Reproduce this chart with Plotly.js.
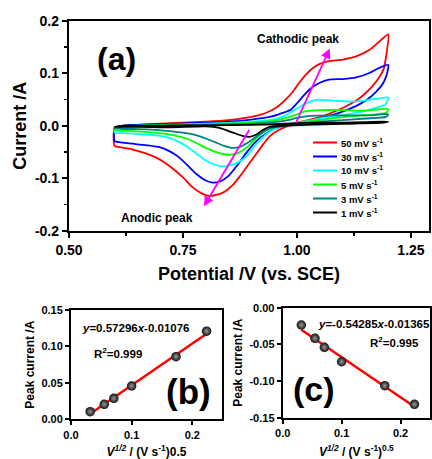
<!DOCTYPE html>
<html><head><meta charset="utf-8">
<script src="https://cdn.plot.ly/plotly-3.0.1.min.js"></script>
<style>html,body{margin:0;padding:0;background:#fff}#plot{width:432px;height:459px}</style>
</head><body><div id="plot"></div>
<script>
// ---- (a) cyclic voltammograms: potential (V) and current (A), closed loops ----
const cv50V = [0.600,0.615,0.65,0.70,0.75,0.80,0.85,0.90,0.93,0.955,0.975,0.99,1.005,1.02,1.035,1.05,1.07,1.10,1.13,1.16,1.18,1.20,
  1.195,1.190,1.180,1.165,1.15,1.13,1.10,1.07,1.04,1.02,1.00,0.98,0.96,0.94,0.92,0.90,0.88,0.86,0.84,0.82,0.805,0.79,0.77,0.75,0.73,0.71,0.69,0.67,0.64,0.615,0.600,0.600];
const cv50I = [-0.004,0.000,0.002,0.004,0.006,0.008,0.011,0.017,0.024,0.035,0.050,0.064,0.082,0.098,0.110,0.118,0.123,0.126,0.132,0.145,0.160,0.174,
  0.130,0.108,0.092,0.075,0.062,0.048,0.034,0.023,0.014,0.010,0.006,0.000,-0.008,-0.020,-0.042,-0.066,-0.090,-0.112,-0.126,-0.132,-0.133,-0.128,-0.116,-0.098,-0.083,-0.070,-0.060,-0.053,-0.045,-0.041,-0.038,-0.004];

const cv30V = [0.600,0.615,0.70,0.80,0.85,0.90,0.94,0.96,0.985,1.00,1.015,1.03,1.05,1.07,1.10,1.13,1.16,1.18,1.20,
  1.196,1.185,1.16,1.13,1.094,1.058,1.02,0.99,0.97,0.95,0.93,0.91,0.89,0.87,0.85,0.83,0.815,0.80,0.78,0.76,0.74,0.72,0.70,0.67,0.64,0.61,0.600,0.600];
const cv30I = [-0.005,0.000,0.003,0.006,0.008,0.012,0.017,0.022,0.030,0.043,0.058,0.071,0.082,0.088,0.089,0.092,0.101,0.110,0.116,
  0.095,0.076,0.054,0.038,0.025,0.016,0.006,0.003,0.000,-0.006,-0.016,-0.030,-0.050,-0.074,-0.095,-0.106,-0.108,-0.104,-0.092,-0.075,-0.059,-0.048,-0.041,-0.037,-0.034,-0.031,-0.029,-0.005];

const cv10V = [0.600,0.62,0.70,0.80,0.90,0.95,0.975,0.99,1.00,1.02,1.04,1.08,1.12,1.155,1.18,1.20,
  1.195,1.18,1.16,1.13,1.094,1.058,1.02,0.99,0.97,0.95,0.93,0.91,0.89,0.87,0.85,0.835,0.82,0.80,0.78,0.76,0.74,0.72,0.70,0.66,0.62,0.600,0.600];
const cv10I = [-0.005,-0.001,0.002,0.004,0.008,0.013,0.020,0.028,0.033,0.043,0.049,0.048,0.046,0.049,0.052,0.054,
  0.042,0.036,0.031,0.025,0.019,0.015,0.009,0.004,0.000,-0.006,-0.018,-0.035,-0.057,-0.070,-0.076,-0.077,-0.074,-0.066,-0.053,-0.040,-0.030,-0.023,-0.019,-0.016,-0.014,-0.013,-0.005];

const cv5V = [0.600,0.62,0.70,0.80,0.90,0.95,0.98,1.00,1.02,1.05,1.10,1.15,1.20,
  1.196,1.17,1.13,1.094,1.058,1.02,0.99,0.97,0.95,0.93,0.91,0.89,0.87,0.855,0.84,0.82,0.80,0.78,0.76,0.73,0.70,0.66,0.62,0.60,0.60];
const cv5I = [-0.004,-0.001,0.001,0.003,0.006,0.010,0.016,0.022,0.028,0.030,0.030,0.029,0.032,
  0.025,0.022,0.019,0.016,0.012,0.008,0.003,0.000,-0.003,-0.010,-0.024,-0.041,-0.052,-0.055,-0.054,-0.049,-0.042,-0.033,-0.025,-0.018,-0.014,-0.011,-0.009,-0.008,-0.004];

const cv3V = [0.600,0.62,0.70,0.80,0.90,0.95,0.98,1.00,1.03,1.07,1.12,1.16,1.20,
  1.195,1.15,1.10,1.05,1.00,0.97,0.95,0.93,0.91,0.89,0.875,0.86,0.84,0.82,0.80,0.78,0.75,0.72,0.68,0.64,0.60,0.60];
const cv3I = [-0.003,-0.001,0.000,0.002,0.004,0.007,0.011,0.015,0.019,0.020,0.020,0.020,0.022,
  0.017,0.014,0.011,0.008,0.004,0.000,-0.003,-0.009,-0.021,-0.033,-0.040,-0.042,-0.038,-0.031,-0.024,-0.018,-0.013,-0.010,-0.007,-0.006,-0.005,-0.003];

const cv1V = [0.600,0.62,0.80,0.90,0.95,1.00,1.05,1.10,1.15,1.20,
  1.19,1.10,1.02,0.97,0.94,0.925,0.91,0.895,0.88,0.86,0.83,0.80,0.72,0.66,0.60];
const cv1I = [-0.002,0.000,0.001,0.002,0.003,0.005,0.006,0.006,0.007,0.008,
  0.006,0.004,0.002,0.000,-0.002,-0.008,-0.017,-0.021,-0.019,-0.013,-0.004,-0.001,-0.003,-0.002,-0.002];

const scanLabels = ['50 mV s<sup>-1</sup>','30 mV s<sup>-1</sup>','10 mV s<sup>-1</sup>','5 mV s<sup>-1</sup>','3 mV s<sup>-1</sup>','1 mV s<sup>-1</sup>'];
const scanColors = ['#ff0000','#0000ff','#00ffff','#00ff00','#008080','#000000'];

// ---- (b), (c) peak currents vs square root of scan rate ----
const sqrtRate = [0.0316,0.0548,0.0707,0.1000,0.1732,0.2236];
const cathodicPeak = [0.0104,0.0206,0.0288,0.0457,0.0860,0.1210];
const anodicPeak = [-0.0236,-0.0418,-0.0540,-0.0737,-0.1064,-0.1318];
const fitX = [0.0316,0.2236];
const fitCathodic = [0.0075,0.1175];
const fitAnodic = [-0.0300,-0.1350];

// ---- tick labels ----
const aXTicks = [0.5,0.75,1.0,1.25], aXText = ['0.50','0.75','1.00','1.25'];
const aYTicks = [-0.2,-0.1,0,0.1,0.2], aYText = ['-0.2','-0.1','0.0','0.1','0.2'];
const bXTicks = [0,0.1,0.2], bXText = ['0.0','0.1','0.2'];
const bYTicks = [0,0.05,0.10,0.15], bYText = ['0.00','0.05','0.10','0.15'];
const cXTicks = [0,0.1,0.2], cXText = ['0.0','0.1','0.2'];
const cYTicks = [0,-0.05,-0.10,-0.15], cYText = ['0.00','-0.05','-0.10','-0.15'];

const FONT = 'Liberation Sans, Arial, Helvetica, sans-serif';
const cvData = [[cv50V,cv50I],[cv30V,cv30I],[cv10V,cv10I],[cv5V,cv5I],[cv3V,cv3I],[cv1V,cv1I]];
const traces = [];
cvData.forEach((d,i)=>{
  traces.push({x:d[0], y:d[1], type:'scatter', mode:'lines', name:scanLabels[i],
    line:{color:scanColors[i], width:1.8, shape:'spline', smoothing:0.6}, xaxis:'x', yaxis:'y', showlegend:false});
});
const dotMarker = {size:9.5, color:'#111', gradient:{type:'radial', color:'#9a9a9a'}, line:{width:0}};
traces.push({x:fitX, y:fitCathodic, mode:'lines', line:{color:'#ff0000', width:2.5}, xaxis:'x2', yaxis:'y2', showlegend:false});
traces.push({x:sqrtRate, y:cathodicPeak, mode:'markers', marker:dotMarker, xaxis:'x2', yaxis:'y2', showlegend:false});
traces.push({x:fitX, y:fitAnodic, mode:'lines', line:{color:'#ff0000', width:2.5}, xaxis:'x3', yaxis:'y3', showlegend:false});
traces.push({x:sqrtRate, y:anodicPeak, mode:'markers', marker:dotMarker, xaxis:'x3', yaxis:'y3', showlegend:false});

function P(px,py){return [px/432, 1-py/459];}
const annotations = [];
const shapes = [];
function txt(px,py,text,size,xanchor){
  const p=P(px,py);
  annotations.push({xref:'paper',yref:'paper',x:p[0],y:p[1],text:text,showarrow:false,
    xanchor:xanchor||'center',yanchor:'middle',font:{family:FONT,size:size,color:'#000',weight:'bold'}});
}
txt(116.7,59,'(a)',32);
txt(298,39,'Cathodic peak',12);
txt(156.7,218.3,'Anodic peak',12);
txt(188.3,391,'(b)',35);
txt(313.8,389,'(c)',34);
txt(136,327.7,'<i>y</i>=0.57296<i>x</i>-0.01076',11.5);
txt(118,353.3,'R<sup>2</sup>=0.999',11.5);
txt(373.8,324.3,'<i>y</i>=-0.54285<i>x</i>-0.01365',11.5);
txt(394.8,341.7,'R<sup>2</sup>=0.995',11.5);
// magenta arrows
annotations.push({xref:'x',yref:'y',axref:'x',ayref:'y',x:0.796,y:-0.153,ax:0.897,ay:-0.005,
  showarrow:true,arrowhead:2,arrowsize:1.1,arrowwidth:1.8,arrowcolor:'#ff00ff',text:''});
annotations.push({xref:'x',yref:'y',axref:'x',ayref:'y',x:1.072,y:0.147,ax:0.996,ay:0.003,
  showarrow:true,arrowhead:2,arrowsize:1.1,arrowwidth:1.8,arrowcolor:'#ff00ff',text:''});
// manual legend
scanLabels.forEach((lab,i)=>{
  const py = 142.5 + 14*i;
  const a=P(313,py), b=P(337,py);
  shapes.push({type:'line',xref:'paper',yref:'paper',x0:a[0],x1:b[0],y0:a[1],y1:a[1],line:{color:scanColors[i],width:2}});
  txt(339,py,lab,9.5,'left');
});

function ax(domain,range,tv,tt,fs,extra){
  return Object.assign({domain:domain,range:range,tickmode:'array',tickvals:tv,ticktext:tt,
    showline:true,linecolor:'#000',linewidth:2.2,mirror:true,ticks:'outside',ticklen:5,tickwidth:2,tickcolor:'#000',
    showgrid:false,zeroline:false,tickfont:{family:FONT,size:fs,color:'#000',weight:'bold'}},extra||{});
}
const layout = {
  width:432,height:459,margin:{l:0,r:0,t:0,b:0},paper_bgcolor:'#fff',plot_bgcolor:'#fff',
  showlegend:false,
  xaxis: ax([69/432,429/432],[0.5,1.2895],aXTicks,aXText,14,{anchor:'y',
    minor:{ticks:'outside',ticklen:3,tickwidth:1.5,tickcolor:'#000',dtick:0.125,tick0:0.5},
    title:{text:'Potential /V (vs. SCE)',standoff:10,font:{family:FONT,size:18,color:'#000',weight:'bold'}}}),
  yaxis: ax([1-231/459,1-20.7/459],[-0.2,0.2],aYTicks,aYText,14,{anchor:'x',
    minor:{ticks:'outside',ticklen:3,tickwidth:1.5,tickcolor:'#000',dtick:0.05,tick0:0},
    title:{text:'Current /A',standoff:4,font:{family:FONT,size:18,color:'#000',weight:'bold'}}}),
  xaxis2: ax([71/432,222/432],[0,0.249],bXTicks,bXText,11,{anchor:'y2',ticklen:4,linewidth:2,
    title:{text:'<i>V</i><sup><i>1/2</i></sup> / (V s<sup>-1</sup>)0.5',standoff:15,font:{family:FONT,size:12,color:'#000',weight:'bold'}}}),
  yaxis2: ax([1-419.3/459,1-310/459],[0,0.15],bYTicks,bYText,11,{anchor:'x2',ticklen:4,linewidth:2,
    title:{text:'Peak current /A',standoff:4,font:{family:FONT,size:12,color:'#000',weight:'bold'}}}),
  xaxis3: ax([282.7/432,430/432],[0,0.25],cXTicks,cXText,11,{anchor:'y3',ticklen:4,linewidth:2,
    title:{text:'<i>V</i><sup><i>1/2</i></sup> / (V s<sup>-1</sup>)<sup>0.5</sup>',standoff:14,font:{family:FONT,size:12,color:'#000',weight:'bold'}}}),
  yaxis3: ax([1-417.7/459,1-307.7/459],[-0.15,0],cYTicks,cYText,11,{anchor:'x3',ticklen:4,linewidth:2,
    title:{text:'Peak current /A',standoff:4,font:{family:FONT,size:12,color:'#000',weight:'bold'}}}),
  annotations:annotations, shapes:shapes
};
Plotly.newPlot('plot',traces,layout,{staticPlot:true,displayModeBar:false});
</script></body></html>
